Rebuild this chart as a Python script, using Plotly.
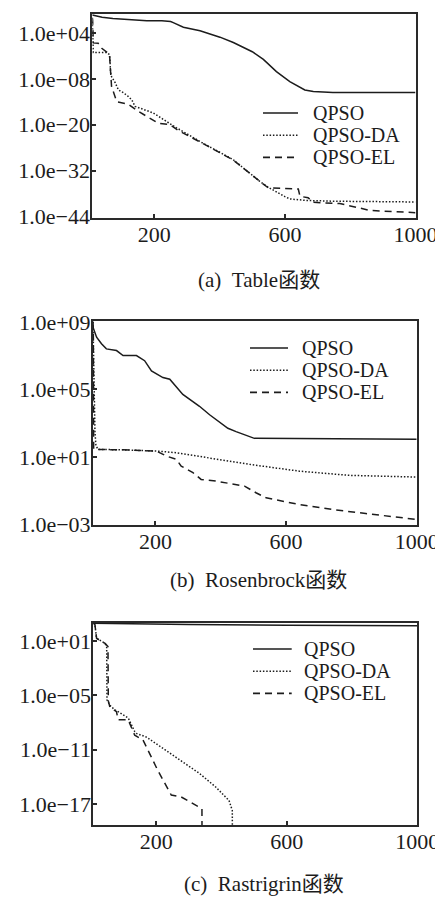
import plotly.graph_objects as go

# ---------------- data (iteration, log10 of best fitness) ----------------
series_names = ["QPSO", "QPSO-DA", "QPSO-EL"]

# (a) Table
a_qpso_iter = [10, 40, 73, 120, 177, 223, 250, 258, 289, 340, 401, 442, 500, 534, 574, 615, 661, 687, 747, 1000]
a_qpso_log = [8.7, 8.1, 7.8, 7.55, 7.2, 7.2, 7.0, 6.7, 5.5, 4.6, 2.9, 1.5, -0.9, -2.9, -6.1, -8.7, -10.9, -11.3, -11.6, -11.6]
a_da_iter = [10, 11, 12, 13, 54, 62, 64, 66, 69, 80, 90, 105, 120, 131, 141, 171, 196, 268, 340, 441, 523, 550, 575, 600, 615, 666, 747, 1000]
a_da_log = [7.0, 4.0, 1.0, -1.1, -1.1, -1.6, -3.0, -6.4, -7.4, -9.0, -10.9, -11.6, -12.6, -13.5, -15.2, -16.1, -16.9, -20.8, -24.4, -29.1, -34.8, -36.4, -37.7, -38.8, -39.4, -39.8, -40.0, -40.2]
a_el_iter = [10, 11, 12, 13, 28, 39, 59, 63, 64, 66, 69, 85, 120, 151, 212, 248, 273, 340, 441, 529, 549, 641, 646, 671, 687, 768, 860, 1000]
a_el_log = [8.0, 7.4, 4.0, 1.4, 1.3, 0.0, -1.3, -1.5, -3.5, -7.3, -10.0, -14.0, -14.6, -16.5, -19.6, -20.0, -21.5, -24.5, -29.2, -35.2, -36.5, -36.8, -38.7, -39.1, -40.3, -40.6, -42.4, -43.0]

# (b) Rosenbrock
b_qpso_iter = [9, 20, 35, 50, 81, 101, 142, 167, 188, 223, 244, 284, 335, 366, 422, 447, 503, 1000]
b_qpso_log = [8.68, 8.09, 7.7, 7.4, 7.3, 7.0, 7.0, 6.7, 6.1, 5.7, 5.6, 4.7, 4.0, 3.5, 2.7, 2.5, 2.1, 2.05]
b_da_iter = [9, 12, 15, 18, 25, 100, 203, 264, 356, 488, 640, 793, 1000]
b_da_log = [9.0, 4.5, 2.5, 1.65, 1.45, 1.42, 1.35, 1.25, 0.95, 0.56, 0.16, -0.09, -0.19]
b_el_iter = [9, 10, 11, 25, 100, 203, 234, 264, 279, 315, 340, 386, 473, 508, 539, 641, 742, 844, 1000]
b_el_log = [9.0, 8.5, 1.45, 1.45, 1.42, 1.35, 1.05, 0.86, 0.46, 0.07, -0.33, -0.43, -0.73, -1.12, -1.42, -1.82, -2.11, -2.35, -2.7]

# (c) Rastrigrin  (last point: value reaches 0, drawn below the axis floor)
c_qpso_iter = [7, 100, 300, 600, 1000]
c_qpso_log = [2.96, 2.9, 2.82, 2.74, 2.68]
c_da_iter = [7, 12, 17, 30, 43, 48, 49, 58, 73, 83, 109, 114, 134, 139, 170, 230, 281, 332, 382, 423, 433, 434]
c_da_log = [3.0, 2.8, 1.3, 1.0, 0.74, 0.4, -5.5, -6.1, -6.6, -6.8, -7.4, -7.5, -9.0, -9.2, -9.6, -11.05, -12.3, -13.6, -15.1, -16.6, -17.7, -30]
c_el_iter = [7, 12, 17, 30, 43, 52, 53, 58, 78, 83, 114, 134, 159, 205, 246, 276, 332, 340, 341]
c_el_log = [3.0, 2.8, 1.3, 1.0, 0.74, 0.4, -5.6, -6.3, -6.8, -7.7, -7.7, -9.4, -9.9, -13.3, -16.0, -16.2, -17.3, -17.5, -30]

x_tickvals = [200, 600, 1000]
a_ytickvals = [1e4, 1e-8, 1e-20, 1e-32, 1e-44]
a_yticktext = ["1.0e+04", "1.0e\u221208", "1.0e\u221220", "1.0e\u221232", "1.0e\u221244"]
b_ytickvals = [1e9, 1e5, 1e1, 1e-3]
b_yticktext = ["1.0e+09", "1.0e+05", "1.0e+01", "1.0e\u221203"]
c_ytickvals = [1e1, 1e-5, 1e-11, 1e-17]
c_yticktext = ["1.0e+01", "1.0e\u221205", "1.0e\u221211", "1.0e\u221217"]
captions = ["(a)\u00a0\u00a0Table函数", "(b)\u00a0\u00a0Rosenbrock函数", "(c)\u00a0\u00a0Rastrigrin函数"]

# ---------------- layout helpers ----------------
# the page body adds an 8px margin; positions below are given in window pixels
OFF = 8
W, H = 443, 897
FONT = "Liberation Serif, Times New Roman, Noto Sans CJK SC, serif"
INK = "#1c1c1c"
dashes = ["solid", "1.5px,1.8px", "7px,5px"]

def fx(p):
    return (p - OFF) / W

def fy(p):
    return 1 - (p - OFF) / H

panels = [
    dict(series=[(a_qpso_iter, a_qpso_log), (a_da_iter, a_da_log), (a_el_iter, a_el_log)],
         xpx=(92.3, 415.5), ypx=(14, 217.5), xr=(10, 1000), yr=(-44.26, 8.96),
         tv=a_ytickvals, tt=a_yticktext,
         leg=dict(l0=263, l1=298, tx=311, rows=(113, 135.2, 157.4)), cap=(259, 280)),
    dict(series=[(b_qpso_iter, b_qpso_log), (b_da_iter, b_da_log), (b_el_iter, b_el_log)],
         xpx=(93, 416.7), ypx=(321, 524.5), xr=(9, 1000), yr=(-3.0, 9.05),
         tv=b_ytickvals, tt=b_yticktext,
         leg=dict(l0=250, l1=288, tx=300, rows=(348, 370.2, 392.4)), cap=(258, 580)),
    dict(series=[(c_qpso_iter, c_qpso_log), (c_da_iter, c_da_log), (c_el_iter, c_el_log)],
         xpx=(93.3, 417.3), ypx=(622.7, 825), xr=(7, 1000), yr=(-19.3, 3.02),
         tv=c_ytickvals, tt=c_yticktext,
         leg=dict(l0=253, l1=291.7, tx=301.7, rows=(649, 671.2, 693.4)), cap=(264, 884)),
]

fig = go.Figure()
shapes = []
annotations = []
layout = {}

for i, p in enumerate(panels):
    n = "" if i == 0 else str(i + 1)
    for k, (xs, ls) in enumerate(p["series"]):
        fig.add_trace(go.Scatter(
            x=xs, y=[10 ** v for v in ls], mode="lines", name=series_names[k],
            showlegend=False, xaxis="x" + n, yaxis="y" + n,
            line=dict(color=INK, width=1.5, dash=dashes[k]),
        ))
    axis_common = dict(showline=True, mirror=True, linecolor="#2a2a2a", linewidth=2,
                       ticks="inside", ticklen=4, tickwidth=1.5, tickcolor="#2a2a2a",
                       showgrid=False, zeroline=False, automargin=False,
                       tickfont=dict(family=FONT, size=22, color=INK))
    layout["xaxis" + n] = dict(axis_common, domain=[fx(p["xpx"][0]), fx(p["xpx"][1])],
                               anchor="y" + n, range=list(p["xr"]),
                               tickmode="array", tickvals=x_tickvals,
                               ticklabelstandoff=-4)
    layout["yaxis" + n] = dict(axis_common, domain=[fy(p["ypx"][1]), fy(p["ypx"][0])],
                               anchor="x" + n, type="log", range=list(p["yr"]),
                               tickmode="array", tickvals=p["tv"], ticktext=p["tt"],
                               ticklabelstandoff=-4)
    lg = p["leg"]
    for k, row in enumerate(lg["rows"]):
        shapes.append(dict(type="line", xref="paper", yref="paper",
                           x0=fx(lg["l0"]), x1=fx(lg["l1"]), y0=fy(row), y1=fy(row),
                           line=dict(color=INK, width=1.6, dash=dashes[k])))
        annotations.append(dict(text=series_names[k], xref="paper", yref="paper",
                                x=fx(lg["tx"]), y=fy(row), xanchor="left", yanchor="middle",
                                showarrow=False, font=dict(family=FONT, size=20, color=INK)))
    annotations.append(dict(text=captions[i], xref="paper", yref="paper",
                            x=fx(p["cap"][0]), y=fy(p["cap"][1]), xanchor="center",
                            yanchor="middle", showarrow=False,
                            font=dict(family=FONT, size=21, color=INK)))

fig.update_layout(template="none", width=W, height=H,
                  margin=dict(l=0, r=0, t=0, b=0, pad=0, autoexpand=False),
                  paper_bgcolor="white", plot_bgcolor="white", showlegend=False,
                  shapes=shapes, annotations=annotations, **layout)

fig.write_html("out.html")
